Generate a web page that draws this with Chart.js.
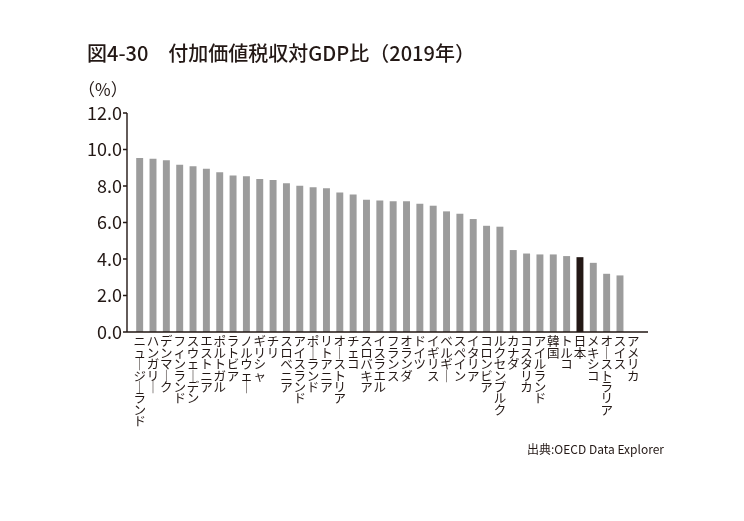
<!DOCTYPE html>
<html>
<head>
<meta charset="utf-8">
<script src="https://cdn.jsdelivr.net/npm/chart.js@4/dist/chart.umd.min.js"></script>
<style>
  html, body { margin: 0; padding: 0; background: #fff; }
  canvas { display: block; }
</style>
</head>
<body>
<canvas id="chart" width="744" height="521"></canvas>
<script>
const chartTitle = '図4-30　付加価値税収対GDP比（2019年）';
const unitLabel = '（%）';
const sourceNote = '出典:OECD Data Explorer';

const countries = [
  'ニュージーランド', 'ハンガリー', 'デンマーク', 'フィンランド', 'スウェーデン',
  'エストニア', 'ポルトガル', 'ラトビア', 'ノルウェー', 'ギリシャ',
  'チリ', 'スロベニア', 'アイスランド', 'ポーランド', 'リトアニア',
  'オーストリア', 'チェコ', 'スロバキア', 'イスラエル', 'フランス',
  'オランダ', 'ドイツ', 'イギリス', 'ベルギー', 'スペイン',
  'イタリア', 'コロンビア', 'ルクセンブルク', 'カナダ', 'コスタリカ',
  'アイルランド', '韓国', 'トルコ', '日本', 'メキシコ',
  'オーストラリア', 'スイス', 'アメリカ'
];
const vatToGdp = [
  9.54, 9.49, 9.41, 9.17, 9.08,
  8.94, 8.75, 8.57, 8.53, 8.39,
  8.33, 8.15, 8.02, 7.93, 7.87,
  7.65, 7.53, 7.25, 7.2, 7.16,
  7.16, 7.03, 6.92, 6.61, 6.48,
  6.19, 5.82, 5.77, 4.49, 4.3,
  4.25, 4.25, 4.16, 4.1, 3.79,
  3.19, 3.1, 0
];
const yTicks = [0, 2, 4, 6, 8, 10, 12];
const highlight = '日本';

const ink = '#231815';
const grey = '#9c9c9c';
const cjk = '"Noto Sans CJK JP", "Noto Sans", sans-serif';

// write the labels top to bottom, one character per line
function vertical(name) {
  return Array.from(name).map(c => c === 'ー' ? '｜' : c);
}

// axis lines drawn a bit outside the plot area, plus the free texts
const decorations = {
  id: 'decorations',
  afterDatasetsDraw(chart) {
    const { ctx, chartArea: a, scales: { y } } = chart;
    const x0 = a.left - 6;
    const yb = y.getPixelForValue(0);
    const yt = y.getPixelForValue(yTicks[yTicks.length - 1]);
    ctx.save();
    ctx.strokeStyle = ink;
    ctx.lineWidth = 1.4;
    ctx.beginPath();
    ctx.moveTo(x0, yt);
    ctx.lineTo(x0, yb);
    ctx.lineTo(a.right + 8, yb);
    yTicks.forEach(v => {
      const p = y.getPixelForValue(v);
      ctx.moveTo(x0 - 4, p);
      ctx.lineTo(x0, p);
    });
    ctx.stroke();

    ctx.fillStyle = ink;
    ctx.textBaseline = 'middle';
    ctx.font = '500 20px ' + cjk;
    ctx.textAlign = 'left';
    ctx.fillText(chartTitle, 87, 53);
    ctx.font = '17px ' + cjk;
    ctx.fillText(unitLabel, 78, 90);
    ctx.font = '12px ' + cjk;
    ctx.textAlign = 'right';
    ctx.fillText(sourceNote, 664, 449);
    ctx.restore();
  }
};

new Chart(document.getElementById('chart'), {
  type: 'bar',
  data: {
    labels: countries,
    datasets: [{
      data: vatToGdp,
      backgroundColor: countries.map(c => c === highlight ? ink : grey),
      borderWidth: 0,
      barPercentage: 0.52,
      categoryPercentage: 1
    }]
  },
  options: {
    responsive: false,
    animation: false,
    devicePixelRatio: 1,
    layout: { padding: { top: 113, right: 104, bottom: 0, left: 0 } },
    plugins: { legend: { display: false }, tooltip: { enabled: false } },
    scales: {
      x: {
        grid: { display: false, drawTicks: false },
        border: { display: false },
        ticks: {
          autoSkip: false,
          maxRotation: 0,
          minRotation: 0,
          padding: 4,
          color: ink,
          font: { family: cjk, size: 12.5, lineHeight: '11.4px' },
          callback: (v, i) => vertical(countries[i])
        },
        afterFit: s => { s.height = 189; }
      },
      y: {
        min: 0,
        max: 12,
        grid: { display: false, drawTicks: false },
        border: { display: false },
        afterBuildTicks: s => { s.ticks = yTicks.map(v => ({ value: v })); },
        ticks: {
          padding: 11,
          color: ink,
          font: { family: cjk, size: 18 },
          callback: v => v.toFixed(1)
        },
        afterFit: s => { s.width = 133; }
      }
    }
  },
  plugins: [decorations]
});
</script>
</body>
</html>
